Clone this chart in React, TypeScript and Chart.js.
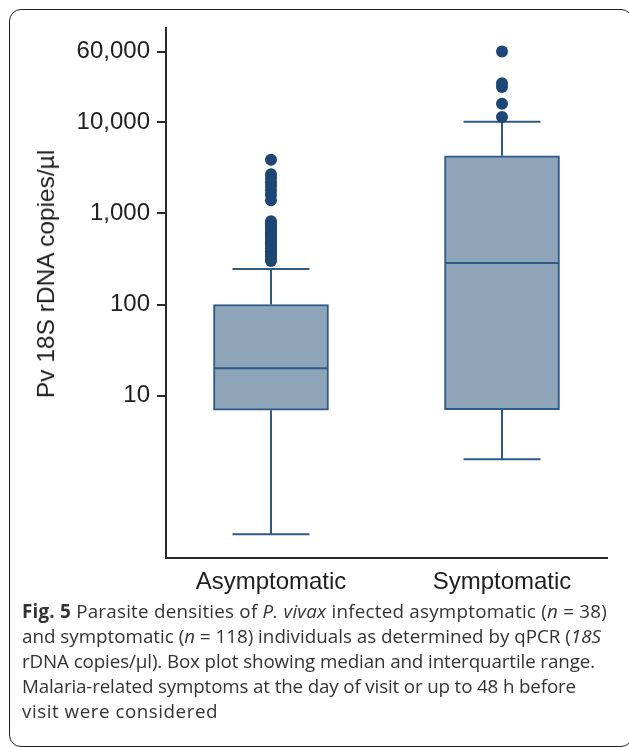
import React, { useEffect, useLayoutEffect, useRef } from 'react';
import { Chart, registerables } from 'chart.js';

Chart.register(...registerables);

// ---- data ----
const categories = ['Asymptomatic', 'Symptomatic'];
const q1Values = [6.9, 7.0];
const medianValues = [20, 285];
const q3Values = [100, 4300];
const whiskerLowValues = [0.3, 2];
const whiskerHighValues = [245, 10200];
const asymptomaticOutliers = [
  3900, 2700, 2450, 2200, 2000, 1800, 1600, 1400,
  820, 780, 740, 700, 660, 620, 590, 560, 530, 500, 470, 440, 410, 385, 360, 340, 320, 300,
];
const symptomaticOutliers = [60000, 27000, 24500, 16000, 11500];
const outlierGroups = [asymptomaticOutliers, symptomaticOutliers];
const yTickValues = [10, 100, 1000, 10000, 60000];
const yAxisMin = 0.166;
const yAxisMax = 109000;
const xAxisMin = 0.5455;
const xAxisMax = 2.4545;
const yAxisTitle = 'Pv 18S rDNA copies/µl';

// ---- styles ----
const BOX_FILL = '#8ea4b9';
const BOX_STROKE = '#2e5a88';
const DOT_COLOR = '#1d4675';
const AXIS_COLOR = '#2a2a2a';
const TEXT_COLOR = '#1e1e1e';
const FONT_FAMILY = '"Liberation Sans", Arial, Helvetica, sans-serif';
const CAP_HALF = 38.5;
const CANVAS_W = 629;
const CANVAS_H = 600;
// target widths (px) of the caption lines, to mimic the original typesetting
const CAPTION_LINE_WIDTHS = [585, 579, 573, 554, 196];

const boxPlotPlugin = {
  id: 'boxPlotParts',
  beforeDatasetsDraw(chart: any) {
    const { ctx, scales } = chart;
    const x = scales.x;
    const y = scales.y;
    ctx.save();
    ctx.strokeStyle = BOX_STROKE;
    ctx.lineWidth = 2;
    categories.forEach((_, i) => {
      const cx = x.getPixelForValue(i + 1);
      const hi = y.getPixelForValue(whiskerHighValues[i]);
      const lo = y.getPixelForValue(whiskerLowValues[i]);
      const top = y.getPixelForValue(q3Values[i]);
      const bot = y.getPixelForValue(q1Values[i]);
      ctx.beginPath();
      ctx.moveTo(cx, top);
      ctx.lineTo(cx, hi);
      ctx.moveTo(cx - CAP_HALF, hi);
      ctx.lineTo(cx + CAP_HALF, hi);
      ctx.moveTo(cx, bot);
      ctx.lineTo(cx, lo);
      ctx.moveTo(cx - CAP_HALF, lo);
      ctx.lineTo(cx + CAP_HALF, lo);
      ctx.stroke();
    });
    ctx.restore();
  },
  afterDatasetsDraw(chart: any) {
    const { ctx, scales } = chart;
    const y = scales.y;
    const meta = chart.getDatasetMeta(1);
    ctx.save();
    ctx.strokeStyle = BOX_STROKE;
    ctx.lineWidth = 2;
    categories.forEach((_, i) => {
      const bar = meta.data[i];
      if (!bar) return;
      const half = bar.width / 2;
      const my = y.getPixelForValue(medianValues[i]);
      ctx.beginPath();
      ctx.moveTo(bar.x - half + 1, my);
      ctx.lineTo(bar.x + half - 1, my);
      ctx.stroke();
    });
    ctx.restore();
  },
};

export default function App() {
  const canvasRef = useRef<HTMLCanvasElement | null>(null);
  const lineRefs = useRef<(HTMLSpanElement | null)[]>([]);

  useLayoutEffect(() => {
    lineRefs.current.forEach((el, i) => {
      if (!el) return;
      el.style.letterSpacing = '0px';
      const natural = el.getBoundingClientRect().width;
      const chars = (el.textContent || '').length;
      const target = CAPTION_LINE_WIDTHS[i];
      if (chars > 1 && target) {
        el.style.letterSpacing = `${(target - natural) / chars}px`;
      }
    });
  }, []);

  useEffect(() => {
    if (!canvasRef.current) return;
    const font = { family: FONT_FAMILY, size: 24 };
    const chart = new Chart(canvasRef.current, {
      type: 'bar',
      data: {
        datasets: [
          {
            type: 'scatter',
            label: 'Outliers',
            data: outlierGroups.flatMap((group, i) => group.map((v) => ({ x: i + 1, y: v }))),
            backgroundColor: DOT_COLOR,
            borderWidth: 0,
            pointRadius: 6,
            pointHoverRadius: 6,
          } as any,
          {
            type: 'bar',
            label: 'IQR',
            data: categories.map((_, i) => ({ x: i + 1, y: [q1Values[i], q3Values[i]] })),
            backgroundColor: BOX_FILL,
            borderColor: BOX_STROKE,
            borderWidth: 2,
            borderSkipped: false,
            barThickness: 115,
          } as any,
        ],
      },
      options: {
        responsive: false,
        animation: false,
        layout: { padding: { top: 28, right: 22, left: 0, bottom: 0 } },
        plugins: {
          legend: { display: false },
          tooltip: { enabled: false },
        },
        scales: {
          x: {
            type: 'linear',
            offset: false,
            min: xAxisMin,
            max: xAxisMax,
            bounds: 'data',
            afterDataLimits: (s: any) => {
              s.min = xAxisMin;
              s.max = xAxisMax;
            },
            afterBuildTicks: (s: any) => {
              s.ticks = categories.map((_, i) => ({ value: i + 1 }));
              s.min = xAxisMin;
              s.max = xAxisMax;
            },
            afterFit: (s: any) => {
              s.height = CANVAS_H - 557.6;
            },
            ticks: {
              callback: (v: any) => categories[Math.round(Number(v)) - 1] ?? '',
              font,
              color: TEXT_COLOR,
              padding: 10,
              autoSkip: false,
              maxRotation: 0,
            },
            grid: { display: false, drawTicks: false, offset: false },
            border: { display: true, color: AXIS_COLOR, width: 2 },
          },
          y: {
            type: 'logarithmic',
            min: yAxisMin,
            max: yAxisMax,
            afterBuildTicks: (s: any) => {
              s.ticks = yTickValues.map((v) => ({ value: v }));
            },
            afterFit: (s: any) => {
              s.width = 166;
            },
            ticks: {
              callback: (v: any) => Number(v).toLocaleString('en-US'),
              font,
              color: TEXT_COLOR,
              padding: 7,
              autoSkip: false,
            },
            grid: { drawOnChartArea: false, tickLength: 9, color: AXIS_COLOR, lineWidth: 2 },
            border: { display: true, color: AXIS_COLOR, width: 2 },
          },
        },
      } as any,
      plugins: [boxPlotPlugin],
    });
    return () => chart.destroy();
  }, []);

  const lineStyle: React.CSSProperties = { display: 'inline-block', whiteSpace: 'nowrap' };

  return (
    <div
      style={{
        position: 'absolute',
        left: 0,
        top: 0,
        width: 629,
        height: 747,
        overflow: 'hidden',
        background: '#ffffff',
      }}
    >
      <div
        style={{
          position: 'absolute',
          left: 9,
          top: 9,
          width: 624,
          height: 738,
          border: '1.5px solid #1f1f1f',
          borderRadius: 12,
          boxSizing: 'border-box',
        }}
      />
      <canvas
        ref={canvasRef}
        width={CANVAS_W}
        height={CANVAS_H}
        style={{ position: 'absolute', left: 0, top: 0, width: CANVAS_W, height: CANVAS_H }}
      />
      <div
        style={{
          position: 'absolute',
          left: 46,
          top: 273.5,
          transform: 'translate(-50%, -50%) rotate(-90deg)',
          fontFamily: FONT_FAMILY,
          fontSize: 24.5,
          color: TEXT_COLOR,
          whiteSpace: 'nowrap',
          lineHeight: '28px',
        }}
      >
        {yAxisTitle}
      </div>
      <div
        style={{
          position: 'absolute',
          left: 22,
          top: 599,
          fontFamily: '"Open Sans", "Noto Sans", sans-serif',
          fontSize: 18.8,
          lineHeight: '25px',
          color: '#333333',
        }}
      >
        <div style={{ height: 25 }}>
          <span ref={(el) => { lineRefs.current[0] = el; }} style={lineStyle}>
            <b>Fig. 5</b> Parasite densities of <i>P. vivax</i> infected asymptomatic (<i>n</i> = 38)
          </span>
        </div>
        <div style={{ height: 25 }}>
          <span ref={(el) => { lineRefs.current[1] = el; }} style={lineStyle}>
            and symptomatic (<i>n</i> = 118) individuals as determined by qPCR (<i>18S</i>
          </span>
        </div>
        <div style={{ height: 25 }}>
          <span ref={(el) => { lineRefs.current[2] = el; }} style={lineStyle}>
            rDNA copies/µl). Box plot showing median and interquartile range.
          </span>
        </div>
        <div style={{ height: 25 }}>
          <span ref={(el) => { lineRefs.current[3] = el; }} style={lineStyle}>
            Malaria-related symptoms at the day of visit or up to 48 h before
          </span>
        </div>
        <div style={{ height: 25 }}>
          <span ref={(el) => { lineRefs.current[4] = el; }} style={lineStyle}>
            visit were considered
          </span>
        </div>
      </div>
    </div>
  );
}
